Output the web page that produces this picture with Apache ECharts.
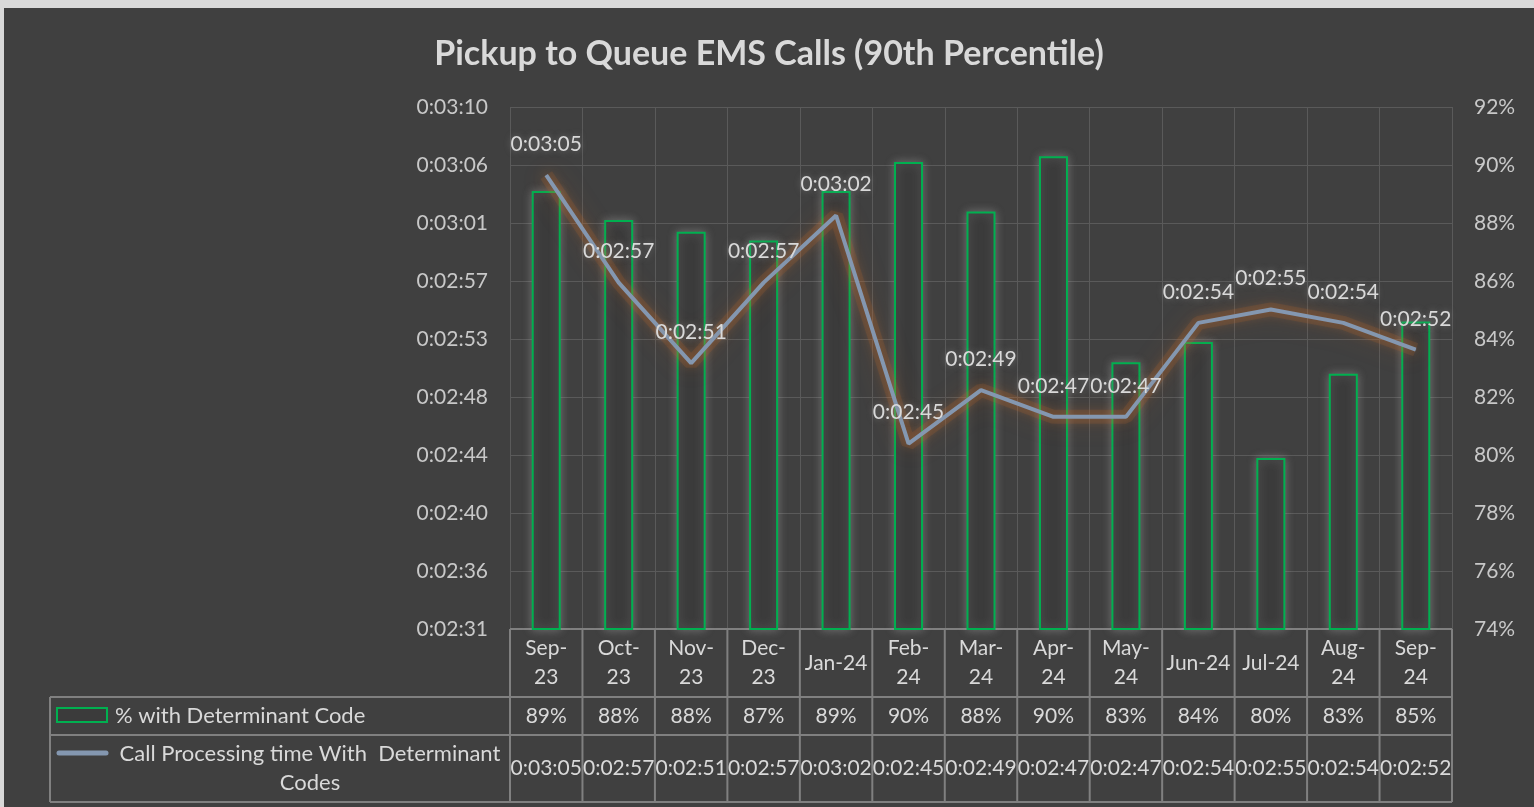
<!DOCTYPE html>
<html>
<head>
<meta charset="utf-8">
<script src="https://cdn.jsdelivr.net/npm/echarts@6/dist/echarts.min.js"></script>
<style>
  html, body { margin: 0; padding: 0; background: #d9d9d9; }
  #chart { position: absolute; left: 4px; top: 8px; width: 1530px; height: 799px; }
</style>
</head>
<body>
<div id="chart"></div>
<script>
// data
const months = ['Sep-23', 'Oct-23', 'Nov-23', 'Dec-23', 'Jan-24', 'Feb-24', 'Mar-24',
  'Apr-24', 'May-24', 'Jun-24', 'Jul-24', 'Aug-24', 'Sep-24'];
const pctWithCode = [89.1, 88.1, 87.7, 87.4, 89.1, 90.1, 88.4, 90.3, 83.2, 83.9, 79.9, 82.8, 84.6];
const procSeconds = [185, 177, 171, 177, 182, 165, 169, 167, 167, 174, 175, 174, 172];
// months that fit on one line in the table header
const oneLine = ['Jan-24', 'Jun-24', 'Jul-24'];

const FONT = 'Lato';
const TXT = '#d9d9d9';
const GRID_LINE = '#5a5a5a';
const TABLE_LINE = '#808080';

const pad = (n) => (n < 10 ? '0' : '') + n;
const fmtTime = (s) => {
  s = Math.round(s);
  return '0:' + pad(Math.floor(s / 60)) + ':' + pad(s % 60);
};

const chart = echarts.init(document.getElementById('chart'));

const option = {
  backgroundColor: '#404040',
  animation: false,
  title: {
    text: 'Pickup to Queue EMS Calls (90th Percentile)',
    left: 'center',
    top: 24,
    textStyle: { color: TXT, fontFamily: FONT, fontSize: 34, fontWeight: 'bold' },
  },
  grid: { left: 506, right: 82, top: 99, bottom: 178 },
  xAxis: {
    type: 'category',
    data: months,
    axisLine: { show: true, lineStyle: { color: TABLE_LINE } },
    axisTick: { show: false },
    splitLine: { show: true, lineStyle: { color: GRID_LINE, width: 1 } },
    axisLabel: {
      color: TXT,
      fontFamily: FONT,
      fontSize: 21,
      lineHeight: 29,
      margin: 34,
      verticalAlign: 'middle',
      interval: 0,
      formatter: (v) => (oneLine.includes(v) ? v : v.replace('-', '-\n')),
    },
  },
  yAxis: [
    {
      type: 'value',
      min: 151.2,
      max: 190.08,
      interval: 4.32,
      axisLine: { show: false },
      axisTick: { show: false },
      splitLine: { show: true, lineStyle: { color: GRID_LINE } },
      axisLabel: { color: '#c8c8c8', fontFamily: FONT, fontSize: 21, margin: 22, formatter: fmtTime },
    },
    {
      type: 'value',
      min: 74,
      max: 92,
      interval: 2,
      axisLine: { show: false },
      axisTick: { show: false },
      splitLine: { show: false },
      axisLabel: { color: '#c8c8c8', fontFamily: FONT, fontSize: 21, margin: 22, formatter: (v) => v + '%' },
    },
  ],
  series: [
    {
      name: '% with Determinant Code',
      type: 'bar',
      yAxisIndex: 1,
      data: pctWithCode,
      barWidth: 29,
      itemStyle: {
        color: '#3b3b3b',
        borderColor: '#00b050',
        borderWidth: 2,
        shadowBlur: 10,
        shadowColor: 'rgba(170,170,170,0.45)',
      },
      z: 2,
    },
    {
      // soft orange glow under the line
      name: 'glow',
      type: 'line',
      yAxisIndex: 0,
      data: procSeconds,
      symbol: 'none',
      silent: true,
      lineStyle: {
        color: 'rgba(180,100,45,0.18)',
        width: 14,
        shadowBlur: 26,
        shadowColor: 'rgba(200,110,45,0.7)',
      },
      z: 2.5,
    },
    {
      name: 'Call Processing time With  Determinant Codes',
      type: 'line',
      yAxisIndex: 0,
      data: procSeconds,
      symbol: 'circle',
      symbolSize: 1,
      itemStyle: { color: '#8497b0' },
      lineStyle: {
        color: '#8497b0',
        width: 4,
        shadowBlur: 12,
        shadowColor: 'rgba(220,120,50,0.6)',
      },
      label: {
        show: true,
        position: 'top',
        distance: 20,
        color: TXT,
        fontFamily: FONT,
        fontSize: 21,
        formatter: (p) => fmtTime(p.value),
        textShadowColor: 'rgba(150,150,150,0.6)',
        textShadowBlur: 6,
      },
      labelLayout: { hideOverlap: false },
      z: 3,
    },
  ],
};

chart.setOption(option);

// data table under the plot
const plotLeft = 506, plotRight = 1530 - 82, axisY = 621;
const rowA = 689, rowB = 727, rowEnd = 794, tableLeft = 46;
const graphics = [];
const hLine = (x1, x2, y) => graphics.push({
  type: 'line', shape: { x1, y1: y, x2, y2: y },
  style: { stroke: TABLE_LINE, lineWidth: 2 }, silent: true,
});
const vLine = (x, y1, y2) => graphics.push({
  type: 'line', shape: { x1: x, y1, x2: x, y2 },
  style: { stroke: TABLE_LINE, lineWidth: 2 }, silent: true,
});
hLine(plotLeft, plotRight, axisY);
hLine(tableLeft, plotRight, rowA);
hLine(tableLeft, plotRight, rowB);
hLine(tableLeft, plotRight, rowEnd);
vLine(tableLeft, rowA, rowEnd);
const step = (plotRight - plotLeft) / months.length;
for (let i = 0; i <= months.length; i++) {
  vLine(plotLeft + i * step, axisY, rowEnd);
}
months.forEach((m, i) => {
  const cx = chart.convertToPixel({ xAxisIndex: 0 }, i);
  graphics.push({
    type: 'text', x: cx, y: (rowA + rowB) / 2,
    style: { text: Math.round(pctWithCode[i]) + '%', fill: TXT, font: '21px ' + FONT, textAlign: 'center', textVerticalAlign: 'middle' },
  });
  graphics.push({
    type: 'text', x: cx, y: (rowB + rowEnd) / 2,
    style: { text: fmtTime(procSeconds[i]), fill: TXT, font: '21px ' + FONT, textAlign: 'center', textVerticalAlign: 'middle' },
  });
});
// legend keys
graphics.push({
  type: 'rect', shape: { x: 53, y: 700, width: 50, height: 14 },
  style: { fill: '#3b3b3b', stroke: '#00b050', lineWidth: 2 },
});
graphics.push({
  type: 'text', x: 111, y: (rowA + rowB) / 2,
  style: { text: '% with Determinant Code', fill: TXT, font: '22px ' + FONT, textAlign: 'left', textVerticalAlign: 'middle' },
});
graphics.push({
  type: 'line', shape: { x1: 55, y1: 745, x2: 102, y2: 745 },
  style: { stroke: '#8497b0', lineWidth: 5, lineCap: 'round' },
});
graphics.push({
  type: 'text', x: 306, y: (rowB + rowEnd) / 2,
  style: {
    text: 'Call Processing time With  Determinant\nCodes', fill: TXT, font: '22px ' + FONT,
    textAlign: 'center', textVerticalAlign: 'middle', lineHeight: 29,
  },
});

chart.setOption({ graphic: graphics });
</script>
</body>
</html>
